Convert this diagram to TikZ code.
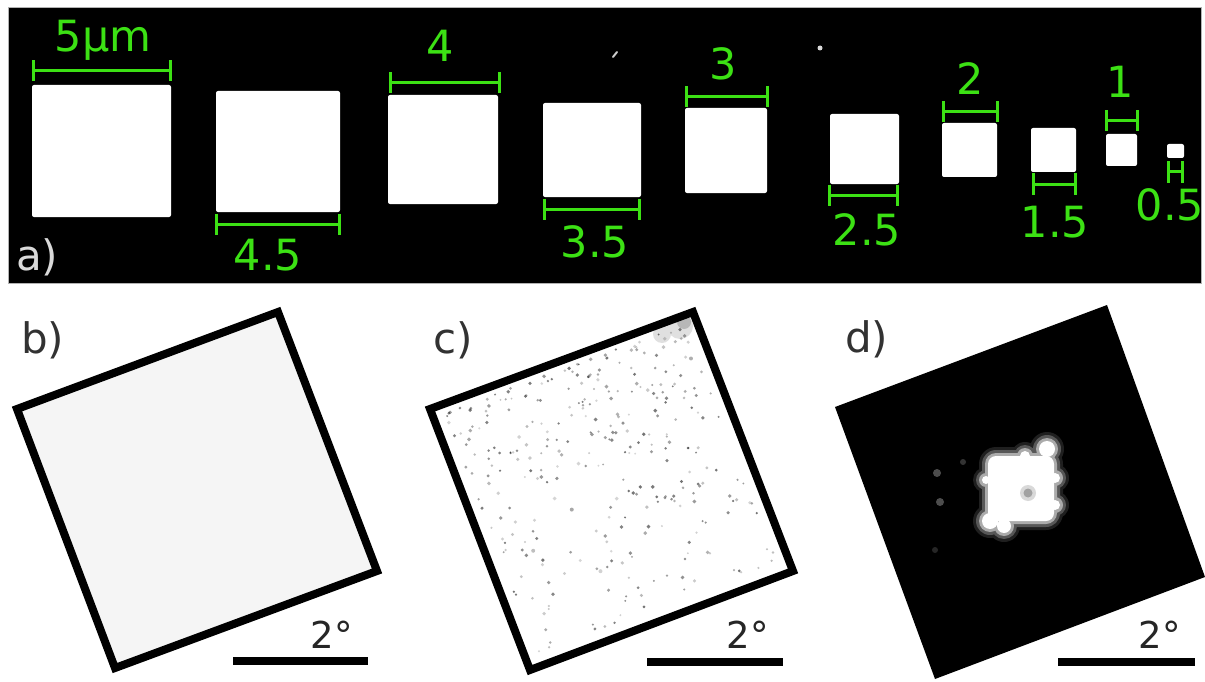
\documentclass[tikz,border=0pt]{standalone}
\usepackage{fontspec}
\setmainfont{DejaVu Sans}
\definecolor{dimgreen}{RGB}{60,225,20}
\definecolor{labgray}{RGB}{50,50,50}
\begin{document}
\begin{tikzpicture}[x=1pt,y=-1pt,
  dimline/.style={draw=dimgreen,line width=3pt},
  dimlabel/.style={text=dimgreen,font=\fontsize{43}{50}\selectfont,inner sep=0pt,anchor=base},
  panellabel/.style={font=\fontsize{42}{50}\selectfont,inner sep=0pt,anchor=base west,text=labgray},
  anglabel/.style={font=\fontsize{37}{44}\selectfont,inner sep=0pt,anchor=base,text=black!85},
  scalebar/.style={draw=black,line width=8pt},
  framesq/.style={draw=black,line width=8pt,line join=miter}]
\useasboundingbox (0,0) rectangle (1205,682);

% ---------- panel a ----------
\fill[black,draw=gray!60,line width=1pt] (8,8) rectangle (1201,283);
\foreach \xa/\ya/\xb/\yb/\da/\db/\dy/\lab/\lx/\ly [count=\i] in {
32/85/171/217/33/170/71/5µm/103/52,
216/91/340/212/216/339/224/4.5/268/270,
388/95/498/204/390/499/83/4/440/62,
543/103/641/197/544/639/209/3.5/595/257,
685/108/767/193/686/767/97/3/723/80,
830/114/899/184/829/897/195/2.5/867/245,
942/123/997/177/943/997/112/2/970/95,
1031/128/1076/172/1033/1075/184/1.5/1055/237,
1106/134/1137/166/1106/1137/121/1/1120/98,
1167/144/1184/158/1168/1182/172/0.5/1170/220}
{
  \fill[white,rounded corners=2pt] (\xa,\ya) rectangle (\xb,\yb);
  \draw[dimline] (\da,\dy) -- (\db,\dy)
                 (\da,\dy-10.5) -- (\da,\dy+10.5)
                 (\db,\dy-10.5) -- (\db,\dy+10.5);
  \node[dimlabel] (lab\i) at (\lx,\ly) {\lab};
}
\draw[white!80!black,line width=2pt,line cap=round] (613,57) -- (617,52);
\fill[white!85!black] (820,48) circle (2.5pt);
\node[panellabel,text=white!85!black] (la) at (16,270) {a)};

% ---------- panel b ----------
\node[panellabel] (lb) at (21,353) {b)};
\filldraw[framesq,fill=black!4] (17,409) -- (278,312) -- (377,571) -- (115,668) -- cycle;
\draw[scalebar] (233,661) -- (368,661);
\node[anglabel] (ab) at (332,648) {2°};

% ---------- panel c ----------
\node[panellabel] (lc) at (433,353) {c)};
\fill[white] (430,409) -- (693,312) -- (793,571) -- (530,670) -- cycle;
\pgfmathsetseed{42}
\foreach \k in {1,...,320}{
  \pgfmathsetmacro\u{0.04+0.92*rnd}
  \pgfmathsetmacro\r{rnd}
  \pgfmathsetmacro\v{0.03+0.92*\r^1.5}
  \pgfmathsetmacro\o{0.15+0.4*rnd}
  \pgfmathsetmacro\s{1.0+1.0*rnd}
  \fill[black,opacity=\o] ({430+263*\u+100*\v},{409-97*\u+261*\v}) circle (\s pt);
}
\begin{scope}[transparency group,opacity=0.12]
  \fill[black] (680,326) circle (13pt) (662,334) circle (9pt);
\end{scope}
\begin{scope}[transparency group,opacity=0.18]
  \fill[black] (684,322) circle (7pt);
\end{scope}
\filldraw[framesq,fill=none] (430,409) -- (693,312) -- (793,571) -- (530,670) -- cycle;
\draw[scalebar] (647,662) -- (783,662);
\node[anglabel] (ac) at (748,648) {2°};

% ---------- panel d ----------
\node[panellabel] (ld) at (845,352) {d)};
\fill[black] (835,407) -- (1107,305) -- (1205,577) -- (935,679) -- cycle;
\def\blob#1{%
  \pgfmathsetmacro\rc{#1+8}%
  \fill[white,rounded corners=\rc pt] (988-#1,456-#1) rectangle (1054+#1,521+#1);
  \fill[white] (1047,449) circle (#1pt+8pt) (990,521) circle (#1pt+8pt)
    (1004,526) circle (#1pt+7pt) (1055,478) circle (#1pt+5pt)
    (1025,456) circle (#1pt+5pt) (986,480) circle (#1pt+4pt)
    (1055,505) circle (#1pt+5pt);}
\begin{scope}[transparency group,opacity=0.12]\blob{9}\end{scope}
\begin{scope}[transparency group,opacity=0.25]\blob{6}\end{scope}
\begin{scope}[transparency group,opacity=0.5]\blob{3}\end{scope}
\blob{0}
\begin{scope}[transparency group,opacity=0.15]
  \fill[black] (1028,493) circle (8pt);
\end{scope}
\begin{scope}[transparency group,opacity=0.25]
  \fill[black] (1028,493) circle (4.5pt);
\end{scope}
\fill[white,opacity=0.3] (937,473) circle (4pt);
\fill[white,opacity=0.3] (940,502) circle (4pt);
\fill[white,opacity=0.15] (935,550) circle (3pt);
\fill[white,opacity=0.2] (963,462) circle (3pt);
\draw[scalebar] (1058,662) -- (1195,662);
\node[anglabel] (ad) at (1160,648) {2°};
\end{tikzpicture}
\end{document}
